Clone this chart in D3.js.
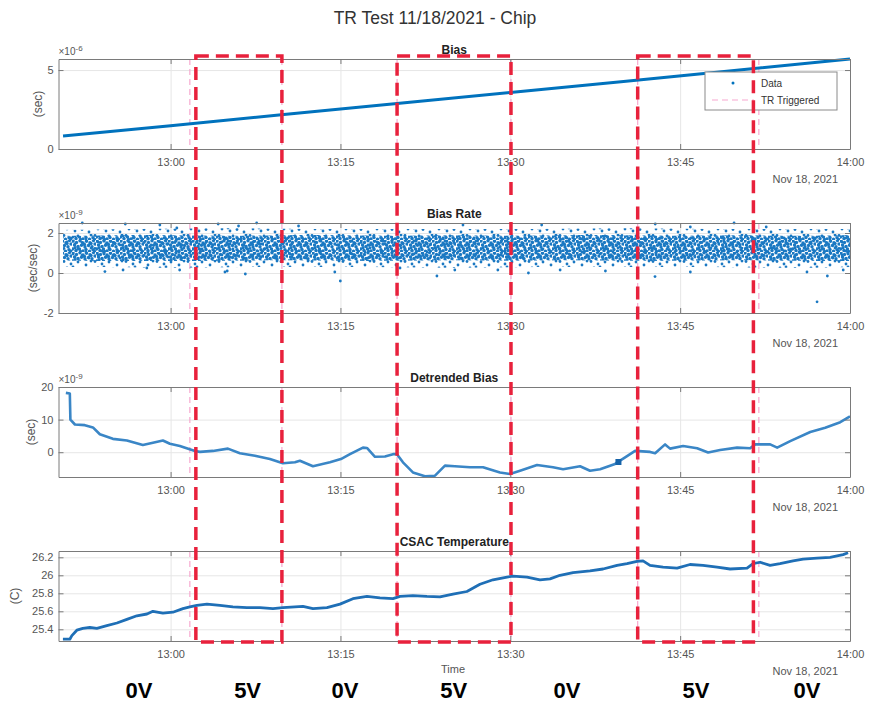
<!DOCTYPE html>
<html>
<head>
<meta charset="utf-8">
<script src="https://cdn.jsdelivr.net/npm/d3@7"></script>
<style>
  body { margin: 0; background: #fff; }
  text { font-family: "Liberation Sans", Arial, sans-serif; }
</style>
</head>
<body>
<svg id="chart" width="870" height="702"></svg>
<script>
// times are minutes after 12:00 on Nov 18, 2021
var biasTime = [50.5, 60, 70, 80, 90, 100, 110, 120];
var biasValue = [0.82, 1.48, 2.18, 2.88, 3.58, 4.28, 4.99, 5.70];

var bandTime = [50.5, 55, 60, 65, 70, 75, 80, 85, 90, 95, 100, 105, 110, 115, 120];
var coreLo = [0.62, 0.6, 0.6, 0.6, 0.65, 0.6, 0.6, 0.65, 0.6, 0.65, 0.6, 0.6, 0.65, 0.6, 0.6];
var coreHi = [1.85, 1.9, 1.9, 1.85, 1.9, 1.9, 1.85, 1.9, 1.85, 1.9, 1.9, 1.85, 1.9, 1.85, 1.9];
var outerLo = [0.3, 0.3, 0.25, 0.3, 0.3, 0.3, 0.3, 0.25, 0.3, 0.3, 0.3, 0.3, 0.3, 0.25, 0.3];
var outerHi = [2.15, 2.2, 2.2, 2.25, 2.2, 2.2, 2.2, 2.2, 2.2, 2.2, 2.25, 2.2, 2.2, 2.2, 2.2];
var strayTime = [74.99, 117.09, 102.78, 83.52, 85.82, 92.77, 109.76, 102.8, 67.6, 64.2, 66.0, 52.2, 56.0, 59.05, 60.55,
  54.2, 55.8, 57.9, 60.8, 65.0, 66.6, 64.8, 74.5, 80.26, 85.1, 88.9, 91.6, 94.4, 105.9, 116.2, 118.0, 119.4, 105.9, 71.3, 98.4, 112.6];
var strayValue = [-0.4, -1.44, -0.18, -0.15, 2.4, 2.4, 2.5, 2.45, 2.5, 2.45, 2.35, 2.5, 2.45, 2.4, 2.25,
  0.07, 0.15, 0.25, 0.15, 0.1, -0.05, 0.05, 0.05, 0.25, 0.15, 0.15, 0.0, 0.15, 0.05, 0.05, -0.15, 0.15, 2.3, 2.35, 0.1, 2.3];

var detTime = [50.75, 51.10, 51.15, 51.55, 52.43, 53.14, 53.75, 54.90, 56.14, 57.55, 58.44, 59.32, 59.94, 60.82, 62.15, 62.59,
  63.74, 65.06, 66.12, 67.45, 68.77, 69.92, 70.98, 71.42, 72.57, 74.07, 75.04, 75.84, 76.99, 77.34, 78.05, 78.93, 79.64,
  79.99, 80.52, 81.40, 82.46, 83.35, 84.23, 85.11, 86.44, 87.59, 89.09, 89.97, 90.86, 92.36, 93.77, 94.66, 96.16, 97.04,
  97.93, 99.25, 100.14, 101.02, 102.35, 102.79, 103.67, 104.11, 105.26, 106.50, 107.47, 108.53, 110.03, 111.18, 111.63,
  112.95, 113.57, 114.72, 116.49, 117.81, 119.14, 120.0];
var detValue = [18.2, 18.0, 10.0, 8.5, 8.3, 7.6, 5.5, 4.1, 3.6, 2.2, 2.9, 3.6, 2.6, 1.9, 0.4, 0.1,
  0.4, 1.1, -0.3, -1.1, -2.1, -3.4, -3.1, -2.6, -4.3, -3.1, -2.1, -0.6, 1.4, 1.3, -1.4, -1.3, -0.6,
  -0.6, -3.1, -6.2, -7.4, -7.2, -4.1, -4.3, -4.6, -4.6, -6.2, -6.7, -5.7, -3.9, -4.6, -5.2, -4.3, -5.7,
  -5.2, -3.6, -1.6, 0.4, 0.1, -0.3, 2.4, 1.1, 1.9, 1.2, -0.1, 0.7, 1.4, 1.2, 2.4,
  2.4, 1.4, 3.4, 6.2, 7.5, 9.2, 11.0];
var detMarkTime = [99.55];
var detMarkValue = [-3.0];

var tempTime = [50.49, 51.10, 51.28, 51.72, 52.25, 52.87, 53.49, 54.37, 55.26, 56.14, 57.02, 57.91, 58.44, 59.32, 60.20,
  61.09, 61.70, 62.32, 63.21, 64.36, 65.50, 66.74, 67.89, 69.04, 69.92, 70.98, 71.69, 72.57, 73.81, 74.96, 76.10,
  77.34, 78.49, 79.64, 80.26, 81.40, 82.64, 83.79, 84.94, 86.17, 87.32, 88.47, 89.71, 90.24, 91.48, 92.62, 93.51,
  94.39, 95.54, 97.04, 98.19, 99.43, 100.31, 101.19, 101.72, 102.34, 103.49, 104.73, 105.87, 107.02, 108.26, 109.41,
  110.91, 111.44, 112.06, 112.94, 113.82, 114.97, 115.86, 117.09, 118.24, 119.39, 119.83];
var tempValue = [25.29, 25.29, 25.33, 25.39, 25.41, 25.42, 25.41, 25.44, 25.47, 25.51, 25.55, 25.57, 25.60, 25.58, 25.59,
  25.63, 25.65, 25.665, 25.68, 25.665, 25.65, 25.64, 25.64, 25.63, 25.64, 25.65, 25.655, 25.63, 25.64, 25.68, 25.74,
  25.765, 25.75, 25.74, 25.765, 25.775, 25.765, 25.76, 25.79, 25.82, 25.90, 25.95, 25.98, 25.99, 25.98, 25.95, 25.96,
  26.00, 26.03, 26.05, 26.07, 26.11, 26.13, 26.155, 26.16, 26.11, 26.09, 26.08, 26.12, 26.11, 26.09, 26.07,
  26.08, 26.13, 26.145, 26.11, 26.13, 26.16, 26.18, 26.19, 26.20, 26.23, 26.25];

var rectStart = [62.23, 80.0, 101.25];
var rectEnd = [69.83, 90.06, 111.47];
var trTimes = [61.7, 69.83, 80.0, 90.06, 101.25, 111.95];
var voltLabels = ["0V", "5V", "0V", "5V", "0V", "5V", "0V"];
var voltLabelTime = [57.2, 66.8, 75.4, 85.0, 95.0, 106.4, 116.2];

var panelTitles = ["Bias", "Bias Rate", "Detrended Bias", "CSAC Temperature"];
var panelUnits = ["(sec)", "(sec/sec)", "(sec)", "(C)"];
var panelExp = ["-6", "-9", "-9", null];
var panelDomain = [[0, 5.7], [-2, 2.5], [-7.6, 20], [25.27, 26.27]];
var panelTicks = [[0, 5], [-2, 0, 2], [0, 10, 20], [25.4, 25.6, 25.8, 26, 26.2]];

var blue = "#0072BD";
var dotBlue = "#1a78c2";
var svg = d3.select("#chart");
var t0 = new Date(2021, 10, 18, 12, 0, 0).getTime();
function toDate(m) { return new Date(t0 + m * 60000); }

var left = 58.5, right = 850, tops = [59, 223, 387, 551], ph = 90;
var x = d3.scaleTime().domain([toDate(50.1), toDate(120)]).range([left, right]);

// dot textures for the dense scatter cloud
var defs = svg.append("defs");
var dense = defs.append("pattern").attr("id", "dense").attr("patternUnits", "userSpaceOnUse")
  .attr("width", 24).attr("height", 12);
[[1, 1], [4.5, 2.5], [8, 0.8], [11, 3], [14.5, 1.2], [18, 2.8], [21.5, 0.5], [2.5, 5], [6, 6.5], [9.5, 5.2],
 [13, 7], [16.5, 5.5], [20, 6.8], [23, 4], [0.5, 9], [4, 10.5], [7.5, 9], [11, 11], [14, 9.5], [17.5, 11.2],
 [21, 9.8], [3, 7.8], [19, 3.5], [12.5, 4.5], [8.5, 11.5], [22.5, 11.5]].forEach(function (p) {
  dense.append("circle").attr("cx", p[0]).attr("cy", p[1]).attr("r", 1.7).attr("fill", dotBlue);
});
var sparse = defs.append("pattern").attr("id", "sparse").attr("patternUnits", "userSpaceOnUse")
  .attr("width", 31).attr("height", 13);
[[2, 1.5], [9, 4], [16, 2], [24, 5], [29, 1], [5, 8], [13, 10], [20, 8.5], [27, 11], [11, 7]].forEach(function (p) {
  sparse.append("circle").attr("cx", p[0]).attr("cy", p[1]).attr("r", 1.4).attr("fill", dotBlue);
});

svg.append("text").attr("x", 435).attr("y", 24).attr("text-anchor", "middle")
  .attr("font-size", 17.5).attr("fill", "#333").text("TR Test 11/18/2021 - Chip");

var tfmt = d3.timeFormat("%H:%M");
var xticks = x.ticks(d3.timeMinute.every(15));

tops.forEach(function (top, i) {
  var y = d3.scaleLinear().domain(panelDomain[i]).range([top + ph, top]);
  var g = svg.append("g");

  // grid
  g.append("g").attr("transform", "translate(0," + (top + ph) + ")")
    .call(d3.axisBottom(x).tickValues(xticks).tickSize(-ph).tickFormat(""))
    .call(function (a) { a.select(".domain").remove(); a.selectAll("line").attr("stroke", "#e6e6e6"); });
  g.append("g").attr("transform", "translate(" + left + ",0)")
    .call(d3.axisLeft(y).tickValues(panelTicks[i]).tickSize(-(right - left)).tickFormat(""))
    .call(function (a) { a.select(".domain").remove(); a.selectAll("line").attr("stroke", "#e6e6e6"); });

  // TR triggered lines
  g.selectAll(".tr").data(trTimes).join("line")
    .attr("x1", function (d) { return x(toDate(d)); }).attr("x2", function (d) { return x(toDate(d)); })
    .attr("y1", top).attr("y2", top + ph)
    .attr("stroke", "#f7a8d0").attr("stroke-width", 1.2).attr("stroke-dasharray", "6,4");

  var clip = "clip" + i;
  defs.append("clipPath").attr("id", clip).append("rect")
    .attr("x", left).attr("y", top - 2).attr("width", right - left + 2).attr("height", ph + 4);
  var plot = g.append("g").attr("clip-path", "url(#" + clip + ")");

  if (i === 0) {
    plot.append("path").datum(d3.range(biasTime.length))
      .attr("fill", "none").attr("stroke", blue).attr("stroke-width", 3)
      .attr("d", d3.line().x(function (k) { return x(toDate(biasTime[k])); }).y(function (k) { return y(biasValue[k]); }));
  } else if (i === 1) {
    var idx = d3.range(bandTime.length);
    plot.append("path").datum(idx).attr("fill", "url(#sparse)")
      .attr("d", d3.area().curve(d3.curveBasis).x(function (k) { return x(toDate(bandTime[k])); })
        .y0(function (k) { return y(outerLo[k]); }).y1(function (k) { return y(outerHi[k]); }));
    plot.append("path").datum(idx).attr("fill", "url(#dense)")
      .attr("d", d3.area().curve(d3.curveBasis).x(function (k) { return x(toDate(bandTime[k])); })
        .y0(function (k) { return y(coreLo[k]); }).y1(function (k) { return y(coreHi[k]); }));
    plot.selectAll(".stray").data(d3.range(strayTime.length)).join("circle")
      .attr("cx", function (k) { return x(toDate(strayTime[k])); })
      .attr("cy", function (k) { return y(strayValue[k]); })
      .attr("r", 1.4).attr("fill", dotBlue);
  } else if (i === 2) {
    plot.append("path").datum(d3.range(detTime.length))
      .attr("fill", "none").attr("stroke", "#3a86c6").attr("stroke-width", 2.6).attr("stroke-linejoin", "round")
      .attr("d", d3.line().x(function (k) { return x(toDate(detTime[k])); }).y(function (k) { return y(detValue[k]); }));
    plot.selectAll(".mk").data(d3.range(detMarkTime.length)).join("rect")
      .attr("x", function (k) { return x(toDate(detMarkTime[k])) - 3; })
      .attr("y", function (k) { return y(detMarkValue[k]) - 3; })
      .attr("width", 6).attr("height", 6).attr("fill", "#1562a8");
  } else {
    plot.append("path").datum(d3.range(tempTime.length))
      .attr("fill", "none").attr("stroke", "#1f6fb6").attr("stroke-width", 2.8).attr("stroke-linejoin", "round")
      .attr("d", d3.line().x(function (k) { return x(toDate(tempTime[k])); }).y(function (k) { return y(tempValue[k]); }));
  }

  // axes (MATLAB style: box, inward ticks)
  var axCol = "#7a7a7a", txtCol = "#555";
  var styleAx = function (a) {
    a.select(".domain").attr("stroke", axCol);
    a.selectAll(".tick line").attr("stroke", axCol);
    a.selectAll("text").attr("fill", txtCol).attr("font-size", 11)
      .style("font-family", "'Liberation Sans', Arial, sans-serif");
  };
  g.append("g").attr("transform", "translate(0," + (top + ph) + ")")
    .call(d3.axisBottom(x).tickValues(xticks).tickSizeInner(-5).tickSizeOuter(0).tickPadding(9).tickFormat(tfmt))
    .call(styleAx);
  g.append("g").attr("transform", "translate(0," + top + ")")
    .call(d3.axisTop(x).tickValues(xticks).tickSizeInner(-5).tickSizeOuter(0).tickFormat(""))
    .call(styleAx);
  var yfmt = function (d) { return String(+d.toFixed(1)); };
  g.append("g").attr("transform", "translate(" + left + ",0)")
    .call(d3.axisLeft(y).tickValues(panelTicks[i]).tickSizeInner(-5).tickSizeOuter(0).tickPadding(5).tickFormat(yfmt))
    .call(styleAx);
  g.append("g").attr("transform", "translate(" + right + ",0)")
    .call(d3.axisRight(y).tickValues(panelTicks[i]).tickSizeInner(-5).tickSizeOuter(0).tickFormat(""))
    .call(styleAx);

  // date label
  g.append("text").attr("x", right - 12).attr("y", top + ph + 34).attr("text-anchor", "end")
    .attr("font-size", 11).attr("fill", txtCol).text("Nov 18, 2021");

  // title
  g.append("text").attr("x", (left + right) / 2).attr("y", top - 5).attr("text-anchor", "middle")
    .attr("font-size", 12).attr("font-weight", "bold").attr("fill", "#222").text(panelTitles[i]);

  // unit label
  var ux = [38, 33, 31, 15][i];
  g.append("text").attr("transform", "translate(" + ux + "," + (top + ph / 2) + ") rotate(-90)")
    .attr("text-anchor", "middle").attr("dy", "0.35em").attr("font-size", 12).attr("fill", txtCol).text(panelUnits[i]);

  // exponent
  if (panelExp[i]) {
    var ex = g.append("text").attr("x", left).attr("y", top - 4).attr("font-size", 10).attr("fill", txtCol);
    ex.append("tspan").text("\u00d710");
    ex.append("tspan").attr("dy", -4).attr("font-size", 8).text(panelExp[i]);
  }
});

// legend (in Bias panel)
var lg = svg.append("g");
lg.append("rect").attr("x", 705).attr("y", 72).attr("width", 132).attr("height", 38)
  .attr("fill", "#fff").attr("stroke", "#8a8a8a").attr("stroke-width", 1);
lg.append("circle").attr("cx", 733).attr("cy", 83).attr("r", 1.5).attr("fill", blue);
lg.append("line").attr("x1", 712).attr("x2", 754).attr("y1", 100).attr("y2", 100)
  .attr("stroke", "#f7a8d0").attr("stroke-width", 1.2).attr("stroke-dasharray", "6,4");
lg.append("text").attr("x", 761).attr("y", 87).attr("font-size", 10).attr("fill", "#333").text("Data");
lg.append("text").attr("x", 761).attr("y", 104).attr("font-size", 10).attr("fill", "#333").text("TR Triggered");

// x axis label
svg.append("text").attr("x", 453).attr("y", 673).attr("text-anchor", "middle")
  .attr("font-size", 11).attr("fill", "#555").text("Time");

// red dashed annotation boxes
svg.selectAll(".box").data(d3.range(rectStart.length)).join("rect")
  .attr("x", function (k) { return x(toDate(rectStart[k])); })
  .attr("width", function (k) { return x(toDate(rectEnd[k])) - x(toDate(rectStart[k])); })
  .attr("y", tops[0] - 3).attr("height", tops[3] + ph - tops[0] + 4)
  .attr("fill", "none").attr("stroke", "#e8213c").attr("stroke-width", 3.5).attr("stroke-dasharray", "13,7");

// voltage labels
svg.selectAll(".volt").data(d3.range(voltLabels.length)).join("text")
  .attr("x", function (k) { return x(toDate(voltLabelTime[k])); }).attr("y", 698)
  .attr("text-anchor", "middle").attr("font-size", 22).attr("font-weight", "bold").attr("fill", "#000")
  .text(function (k) { return voltLabels[k]; });
</script>
</body>
</html>
